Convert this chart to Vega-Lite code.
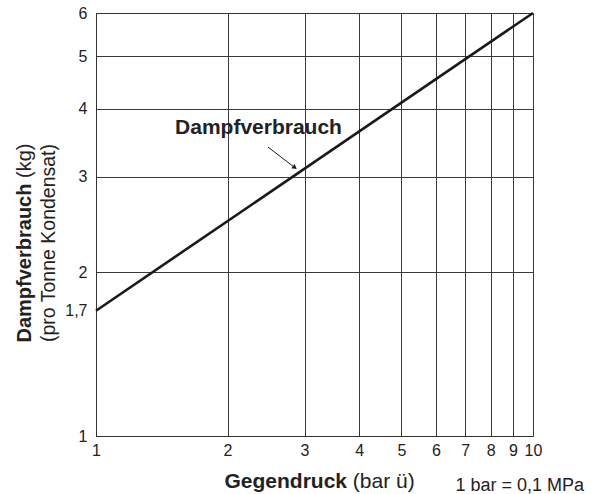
{
  "$schema": "https://vega.github.io/schema/vega-lite/v6.json",
  "width": 437,
  "height": 423,
  "autosize": {"type": "none"},
  "padding": {"left": 96, "top": 13, "right": 70, "bottom": 58},
  "background": "white",
  "config": {
    "font": "Liberation Sans",
    "view": {"stroke": "#333", "strokeWidth": 1},
    "axis": {"labelFont": "Liberation Sans", "titleFont": "Liberation Sans", "labelColor": "#222", "titleColor": "#222"}
  },
  "resolve": {"axis": {"x": "independent", "y": "independent"}},
  "layer": [
    {
      "data": {"values": [{"x": 1, "y": 1.7}, {"x": 10, "y": 6}]},
      "mark": {"type": "line", "color": "#1a1a1a", "strokeWidth": 2.6},
      "encoding": {
        "x": {
          "field": "x", "type": "quantitative",
          "scale": {"type": "log", "domain": [1, 10], "nice": false},
          "axis": {
            "orient": "bottom", "values": [1, 2, 3, 4, 5, 6, 7, 8, 9, 10], "format": "d",
            "grid": true, "gridColor": "#3a3a3a", "gridOpacity": 1, "gridWidth": 1,
            "domain": true, "domainColor": "#333", "ticks": false,
            "labelFontSize": 16, "labelPadding": 6, "labelFlush": false, "labelOverlap": false,
            "title": "Gegendruck", "titleFontSize": 21, "titleFontWeight": "bold",
            "titleAlign": "left", "titleBaseline": "alphabetic", "titleAngle": 0,
            "titleX": 128, "titleY": 51
          }
        },
        "y": {
          "field": "y", "type": "quantitative",
          "scale": {"type": "log", "domain": [1, 6], "nice": false},
          "axis": {
            "orient": "left", "values": [1, 1.7, 2, 3, 4, 5, 6],
            "labelExpr": "replace(format(datum.value, '~g'), '.', ',')",
            "grid": false, "domain": true, "domainColor": "#333", "ticks": false,
            "labelFontSize": 16, "labelPadding": 9, "labelFlush": false, "labelOverlap": false,
            "title": "Dampfverbrauch", "titleFontSize": 20, "titleFontWeight": "bold",
            "titleAlign": "left", "titleBaseline": "alphabetic", "titleAngle": 270,
            "titleX": -66, "titleY": 329
          }
        }
      }
    },
    {
      "data": {"values": [{"x": 2.475, "y": 3.401, "x2": 2.851, "y2": 3.117}]},
      "mark": {"type": "rule", "color": "#1a1a1a", "strokeWidth": 1},
      "encoding": {
        "x": {
          "field": "x", "type": "quantitative",
          "scale": {"type": "log", "domain": [1, 10], "nice": false},
          "axis": {
            "orient": "bottom", "labels": false, "ticks": false, "domain": false, "grid": false,
            "title": "(bar ü)", "titleFontSize": 21, "titleFontWeight": "normal",
            "titleAlign": "left", "titleBaseline": "alphabetic", "titleAngle": 0,
            "titleX": 256.3, "titleY": 51
          }
        },
        "y": {
          "field": "y", "type": "quantitative",
          "scale": {"type": "log", "domain": [1, 6], "nice": false},
          "axis": {
            "orient": "left", "values": [2, 3, 4, 5], "labels": false, "ticks": false, "domain": false,
            "grid": true, "gridColor": "#3a3a3a", "gridOpacity": 1, "gridWidth": 1,
            "title": "(kg)", "titleFontSize": 20, "titleFontWeight": "normal",
            "titleAlign": "left", "titleBaseline": "alphabetic", "titleAngle": 270,
            "titleX": -66, "titleY": 164.5
          }
        },
        "x2": {"field": "x2"},
        "y2": {"field": "y2"}
      }
    },
    {
      "data": {"values": [{"x": 2.851, "y": 3.117}]},
      "mark": {"type": "point", "shape": "triangle-right", "filled": true, "color": "#1a1a1a", "opacity": 1, "size": 30, "angle": 37.5},
      "encoding": {
        "x": {
          "field": "x", "type": "quantitative",
          "scale": {"type": "log", "domain": [1, 10], "nice": false},
          "axis": {
            "orient": "bottom", "labels": false, "ticks": false, "domain": false, "grid": false,
            "title": "1 bar = 0,1 MPa", "titleFontSize": 18, "titleFontWeight": "normal",
            "titleAlign": "left", "titleBaseline": "alphabetic", "titleAngle": 0,
            "titleX": 359, "titleY": 54
          }
        },
        "y": {
          "field": "y", "type": "quantitative",
          "scale": {"type": "log", "domain": [1, 6], "nice": false},
          "axis": {
            "orient": "left", "labels": false, "ticks": false, "domain": false, "grid": false,
            "title": "(pro Tonne Kondensat)", "titleFontSize": 19.5, "titleFontWeight": "normal",
            "titleAlign": "center", "titleBaseline": "alphabetic", "titleAngle": 270,
            "titleX": -42, "titleY": 229.5
          }
        }
      }
    },
    {
      "data": {"values": [{"x": 2.354, "y": 3.594, "label": "Dampfverbrauch"}]},
      "mark": {"type": "text", "fontSize": 21, "fontWeight": "bold", "color": "#222", "align": "center", "baseline": "alphabetic"},
      "encoding": {
        "x": {"field": "x", "type": "quantitative", "scale": {"type": "log", "domain": [1, 10], "nice": false}, "axis": null},
        "y": {"field": "y", "type": "quantitative", "scale": {"type": "log", "domain": [1, 6], "nice": false}, "axis": null},
        "text": {"field": "label"}
      }
    }
  ]
}
